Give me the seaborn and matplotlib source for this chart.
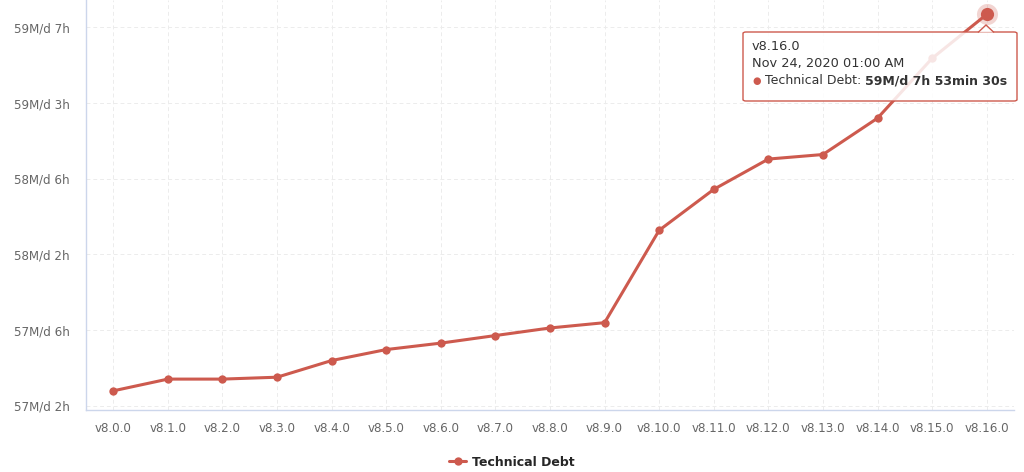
import matplotlib
matplotlib.use("Agg")
import matplotlib.pyplot as plt
import matplotlib.patches as mpatches
from matplotlib.lines import Line2D
import numpy as np
import pandas as pd
import seaborn as sns

versions = ["v8.0.0", "v8.1.0", "v8.2.0", "v8.3.0", "v8.4.0", "v8.5.0", "v8.6.0",
            "v8.7.0", "v8.8.0", "v8.9.0", "v8.10.0", "v8.11.0", "v8.12.0",
            "v8.13.0", "v8.14.0", "v8.15.0", "v8.16.0"]
# debt, in y-tick steps above the lowest tick
debt = [0.20, 0.355, 0.355, 0.38, 0.60, 0.745, 0.83, 0.93, 1.03, 1.10,
        2.32, 2.86, 3.26, 3.32, 3.80, 4.59, 5.17]
y_tick_labels = ["57M/d 2h", "57M/d 6h", "58M/d 2h", "58M/d 6h", "59M/d 3h", "59M/d 7h"]

tip_title = "v8.16.0"
tip_date = "Nov 24, 2020 01:00 AM"
tip_series = "Technical Debt: "
tip_value = "59M/d 7h 53min 30s"

RED = "#cd5a4e"
AXIS = "#ccd6eb"
GRID = "#ececec"
LABEL = "#666666"

sns.set_style("white")
plt.rcParams["font.family"] = ["DejaVu Sans"]

df = pd.DataFrame({"pos": np.arange(len(versions)), "debt": debt})

W, H = 1024, 472
fig = plt.figure(figsize=(W / 100, H / 100), dpi=100)
ax = fig.add_axes([86 / W, 62 / H, (1014 - 86) / W, 410 / H])

sns.lineplot(data=df, x="pos", y="debt", ax=ax, color=RED, linewidth=2.2,
             marker="o", markersize=6, markeredgewidth=0, zorder=3)
last = df.iloc[-1]
ax.scatter([last["pos"]], [last["debt"]], s=230, color=RED, alpha=0.25,
           linewidths=0, zorder=4)
ax.scatter([last["pos"]], [last["debt"]], s=90, color=RED, linewidths=0, zorder=5)

ax.set_xlim(-0.5, len(versions) - 0.5)
ax.set_ylim(-0.053, 5.36)
ax.set_xticks(df["pos"])
ax.set_xticklabels(versions)
ax.set_yticks(range(len(y_tick_labels)))
ax.set_yticklabels(y_tick_labels)
ax.set_xlabel("")
ax.set_ylabel("")

ax.grid(True, color=GRID, linestyle=(0, (4, 3)), linewidth=0.7)
ax.set_axisbelow(True)
for s in ["top", "right"]:
    ax.spines[s].set_visible(False)
for s in ["left", "bottom"]:
    ax.spines[s].set_color(AXIS)
    ax.spines[s].set_linewidth(1)
ax.tick_params(axis="y", length=4.5, color=AXIS, pad=7, labelsize=8.6, labelcolor=LABEL)
ax.tick_params(axis="x", length=0, pad=9, labelsize=8.6, labelcolor=LABEL)

# tooltip
box = mpatches.FancyBboxPatch((743 / W, 1 - 101 / H), 274 / W, 69 / H,
                              boxstyle="round,pad=0,rounding_size=0.003",
                              transform=fig.transFigure, facecolor=(1, 1, 1, 0.85),
                              edgecolor=RED, linewidth=1, zorder=10)
fig.add_artist(box)
notch = mpatches.Polygon([(978 / W, 1 - 32.5 / H), (986 / W, 1 - 25 / H), (994 / W, 1 - 32.5 / H)],
                         closed=False, transform=fig.transFigure, facecolor=(1, 1, 1, 0.85),
                         edgecolor=RED, linewidth=1, zorder=10)
fig.add_artist(notch)
fig.text(752 / W, 1 - 46 / H, tip_title, fontsize=9.3, color="#333333", va="center", zorder=11)
fig.text(752 / W, 1 - 63 / H, tip_date, fontsize=9.3, color="#333333", va="center", zorder=11)
fig.text(752 / W, 1 - 81 / H, "\u25cf", fontsize=7, color=RED, va="center", zorder=11)
t1 = fig.text(765 / W, 1 - 81 / H, tip_series, fontsize=9, color="#333333",
              va="center", zorder=11)
fig.add_artist(plt.Annotation(tip_value, xy=(1, 0.5), xycoords=t1, va="center",
                              fontsize=9, fontweight="bold", color="#333333", zorder=11))

handle = Line2D([0], [0], color=RED, linewidth=2.2, marker="o", markersize=6,
                markeredgewidth=0)
fig.legend([handle], ["Technical Debt"], loc="center", bbox_to_anchor=(512 / W, 1 - 462 / H),
           frameon=False, handlelength=1.3, handletextpad=0.5,
           prop={"weight": "bold", "size": 9})

fig.savefig("out.png", dpi=100)
